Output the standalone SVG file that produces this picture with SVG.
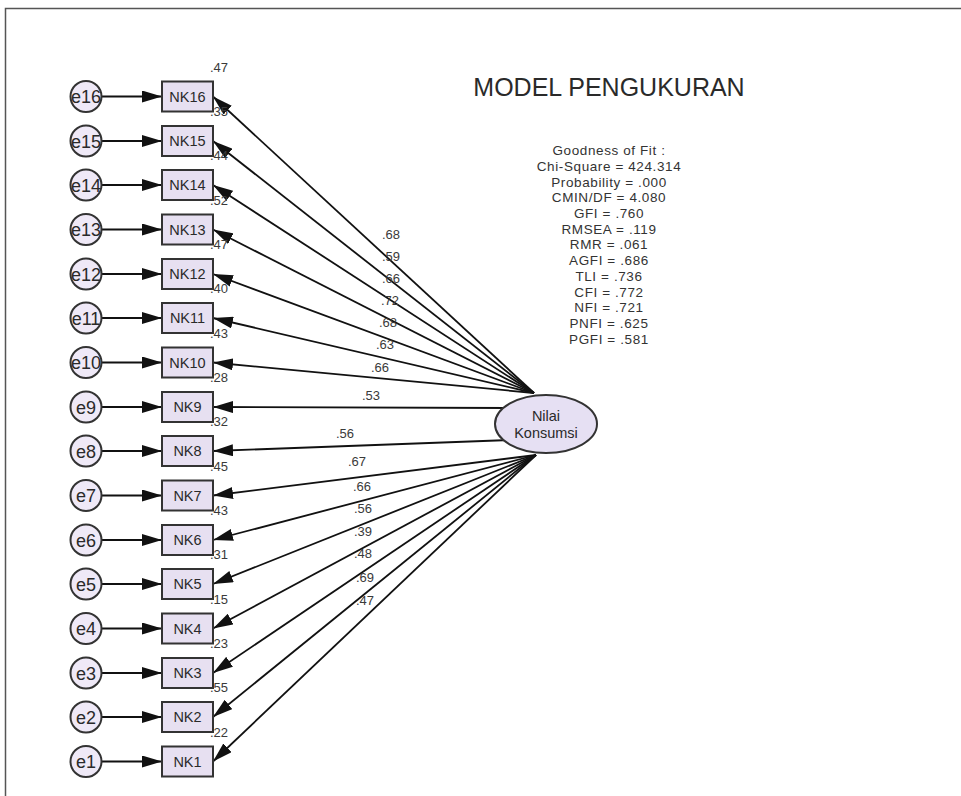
<svg xmlns="http://www.w3.org/2000/svg" width="961" height="796" viewBox="0 0 961 796">
<style>
text{font-family:"Liberation Sans",Arial,sans-serif;fill:#2a2a2a}
.ec{fill:#efe9f7;stroke:#333;stroke-width:2}
.rb{fill:#e7e0f1;stroke:#333;stroke-width:2}
.el{fill:#e6e0f3;stroke:#333;stroke-width:2}
.et{font-size:18px;text-anchor:middle}
.nt{font-size:14.5px;text-anchor:middle}
.r2{font-size:13px;text-anchor:middle;fill:#3a3a3a}
.ld{font-size:13px;text-anchor:middle;fill:#3a3a3a}
.cn line{stroke:#111;stroke-width:1.8;marker-end:url(#ah)}
.gf{font-size:13.5px;text-anchor:middle;letter-spacing:0.6px;fill:#333}
</style>
<defs>
<marker id="ah" markerUnits="userSpaceOnUse" markerWidth="20" markerHeight="12" refX="20" refY="6" orient="auto">
<path d="M0,0 L20,6 L0,12 z" fill="#111"/>
</marker>
</defs>
<rect width="961" height="796" fill="#fff"/>
<path d="M5.5,796 V8.5 H961" fill="none" stroke="#555" stroke-width="1.5"/>
<text x="609" y="96" font-size="25" text-anchor="middle" fill="#222">MODEL PENGUKURAN</text>
<g id="fit">
<text class="gf" x="609" y="155.2">Goodness of Fit :</text>
<text class="gf" x="609" y="170.9">Chi-Square = 424.314</text>
<text class="gf" x="609" y="186.6">Probability = .000</text>
<text class="gf" x="609" y="202.3">CMIN/DF = 4.080</text>
<text class="gf" x="609" y="218">GFI = .760</text>
<text class="gf" x="609" y="233.7">RMSEA = .119</text>
<text class="gf" x="609" y="249.4">RMR = .061</text>
<text class="gf" x="609" y="265.1">AGFI = .686</text>
<text class="gf" x="609" y="280.8">TLI = .736</text>
<text class="gf" x="609" y="296.5">CFI = .772</text>
<text class="gf" x="609" y="312.2">NFI = .721</text>
<text class="gf" x="609" y="327.9">PNFI = .625</text>
<text class="gf" x="609" y="343.6">PGFI = .581</text>
</g>
<g id="connectors" class="cn">
<line x1="101.5" y1="96.5" x2="162" y2="96.5"/>
<line x1="101.5" y1="141" x2="162" y2="141"/>
<line x1="101.5" y1="185" x2="162" y2="185"/>
<line x1="101.5" y1="229.5" x2="162" y2="229.5"/>
<line x1="101.5" y1="274" x2="162" y2="274"/>
<line x1="101.5" y1="318" x2="162" y2="318"/>
<line x1="101.5" y1="362.5" x2="162" y2="362.5"/>
<line x1="101.5" y1="407" x2="162" y2="407"/>
<line x1="101.5" y1="451" x2="162" y2="451"/>
<line x1="101.5" y1="495.5" x2="162" y2="495.5"/>
<line x1="101.5" y1="540" x2="162" y2="540"/>
<line x1="101.5" y1="584" x2="162" y2="584"/>
<line x1="101.5" y1="628.5" x2="162" y2="628.5"/>
<line x1="101.5" y1="673" x2="162" y2="673"/>
<line x1="101.5" y1="717" x2="162" y2="717"/>
<line x1="101.5" y1="761.5" x2="162" y2="761.5"/>
<line x1="534" y1="393" x2="213" y2="96.5"/>
<line x1="534" y1="393" x2="213" y2="141"/>
<line x1="534" y1="393" x2="213" y2="185"/>
<line x1="534" y1="393" x2="213" y2="229.5"/>
<line x1="534" y1="393" x2="213" y2="274"/>
<line x1="534" y1="393" x2="213" y2="318"/>
<line x1="534" y1="393" x2="213" y2="362.5"/>
<line x1="510" y1="408" x2="213" y2="407"/>
<line x1="510" y1="440" x2="213" y2="451"/>
<line x1="536" y1="455" x2="213" y2="495.5"/>
<line x1="536" y1="455" x2="213" y2="540"/>
<line x1="536" y1="455" x2="213" y2="584"/>
<line x1="536" y1="455" x2="213" y2="628.5"/>
<line x1="536" y1="455" x2="213" y2="673"/>
<line x1="536" y1="455" x2="213" y2="717"/>
<line x1="536" y1="455" x2="213" y2="761.5"/>
<text class="ld" x="391" y="238.5">.68</text>
<text class="ld" x="391" y="260.5">.59</text>
<text class="ld" x="391" y="282.5">.66</text>
<text class="ld" x="390" y="304.5">.72</text>
<text class="ld" x="388" y="326.5">.68</text>
<text class="ld" x="385" y="348.5">.63</text>
<text class="ld" x="380" y="371.5">.66</text>
<text class="ld" x="371" y="399.5">.53</text>
<text class="ld" x="345" y="437.5">.56</text>
<text class="ld" x="357" y="465.5">.67</text>
<text class="ld" x="362" y="490.5">.66</text>
<text class="ld" x="363" y="512.5">.56</text>
<text class="ld" x="363" y="535.5">.39</text>
<text class="ld" x="363" y="557.5">.48</text>
<text class="ld" x="365" y="581.5">.69</text>
<text class="ld" x="365" y="604.5">.47</text>
</g>
<g id="NilaiKonsumsi">
<ellipse class="el" cx="546" cy="424" rx="51" ry="29"/>
<text class="nt" x="546" y="421" font-size="14">Nilai</text>
<text class="nt" x="546" y="437.5" font-size="14">Konsumsi</text>
</g>
<g id="e16"><circle class="ec" cx="86" cy="96.5" r="15.5"/><text class="et" x="86" y="103">e16</text></g>
<g id="e15"><circle class="ec" cx="86" cy="141" r="15.5"/><text class="et" x="86" y="147.5">e15</text></g>
<g id="e14"><circle class="ec" cx="86" cy="185" r="15.5"/><text class="et" x="86" y="191.5">e14</text></g>
<g id="e13"><circle class="ec" cx="86" cy="229.5" r="15.5"/><text class="et" x="86" y="236">e13</text></g>
<g id="e12"><circle class="ec" cx="86" cy="274" r="15.5"/><text class="et" x="86" y="280.5">e12</text></g>
<g id="e11"><circle class="ec" cx="86" cy="318" r="15.5"/><text class="et" x="86" y="324.5">e11</text></g>
<g id="e10"><circle class="ec" cx="86" cy="362.5" r="15.5"/><text class="et" x="86" y="369">e10</text></g>
<g id="e9"><circle class="ec" cx="86" cy="407" r="15.5"/><text class="et" x="86" y="413.5">e9</text></g>
<g id="e8"><circle class="ec" cx="86" cy="451" r="15.5"/><text class="et" x="86" y="457.5">e8</text></g>
<g id="e7"><circle class="ec" cx="86" cy="495.5" r="15.5"/><text class="et" x="86" y="502">e7</text></g>
<g id="e6"><circle class="ec" cx="86" cy="540" r="15.5"/><text class="et" x="86" y="546.5">e6</text></g>
<g id="e5"><circle class="ec" cx="86" cy="584" r="15.5"/><text class="et" x="86" y="590.5">e5</text></g>
<g id="e4"><circle class="ec" cx="86" cy="628.5" r="15.5"/><text class="et" x="86" y="635">e4</text></g>
<g id="e3"><circle class="ec" cx="86" cy="673" r="15.5"/><text class="et" x="86" y="679.5">e3</text></g>
<g id="e2"><circle class="ec" cx="86" cy="717" r="15.5"/><text class="et" x="86" y="723.5">e2</text></g>
<g id="e1"><circle class="ec" cx="86" cy="761.5" r="15.5"/><text class="et" x="86" y="768">e1</text></g>
<g id="NK16"><rect class="rb" x="162" y="81.5" width="51" height="30"/><text class="nt" x="187.5" y="101.5">NK16</text><text class="r2" x="219" y="71.5">.47</text></g>
<g id="NK15"><rect class="rb" x="162" y="126" width="51" height="30"/><text class="nt" x="187.5" y="146">NK15</text><text class="r2" x="219" y="116">.35</text></g>
<g id="NK14"><rect class="rb" x="162" y="170" width="51" height="30"/><text class="nt" x="187.5" y="190">NK14</text><text class="r2" x="219" y="160">.44</text></g>
<g id="NK13"><rect class="rb" x="162" y="214.5" width="51" height="30"/><text class="nt" x="187.5" y="234.5">NK13</text><text class="r2" x="219" y="204.5">.52</text></g>
<g id="NK12"><rect class="rb" x="162" y="259" width="51" height="30"/><text class="nt" x="187.5" y="279">NK12</text><text class="r2" x="219" y="249">.47</text></g>
<g id="NK11"><rect class="rb" x="162" y="303" width="51" height="30"/><text class="nt" x="187.5" y="323">NK11</text><text class="r2" x="219" y="293">.40</text></g>
<g id="NK10"><rect class="rb" x="162" y="347.5" width="51" height="30"/><text class="nt" x="187.5" y="367.5">NK10</text><text class="r2" x="219" y="337.5">.43</text></g>
<g id="NK9"><rect class="rb" x="162" y="392" width="51" height="30"/><text class="nt" x="187.5" y="412">NK9</text><text class="r2" x="219" y="382">.28</text></g>
<g id="NK8"><rect class="rb" x="162" y="436" width="51" height="30"/><text class="nt" x="187.5" y="456">NK8</text><text class="r2" x="219" y="426">.32</text></g>
<g id="NK7"><rect class="rb" x="162" y="480.5" width="51" height="30"/><text class="nt" x="187.5" y="500.5">NK7</text><text class="r2" x="219" y="470.5">.45</text></g>
<g id="NK6"><rect class="rb" x="162" y="525" width="51" height="30"/><text class="nt" x="187.5" y="545">NK6</text><text class="r2" x="219" y="515">.43</text></g>
<g id="NK5"><rect class="rb" x="162" y="569" width="51" height="30"/><text class="nt" x="187.5" y="589">NK5</text><text class="r2" x="219" y="559">.31</text></g>
<g id="NK4"><rect class="rb" x="162" y="613.5" width="51" height="30"/><text class="nt" x="187.5" y="633.5">NK4</text><text class="r2" x="219" y="603.5">.15</text></g>
<g id="NK3"><rect class="rb" x="162" y="658" width="51" height="30"/><text class="nt" x="187.5" y="678">NK3</text><text class="r2" x="219" y="648">.23</text></g>
<g id="NK2"><rect class="rb" x="162" y="702" width="51" height="30"/><text class="nt" x="187.5" y="722">NK2</text><text class="r2" x="219" y="692">.55</text></g>
<g id="NK1"><rect class="rb" x="162" y="746.5" width="51" height="30"/><text class="nt" x="187.5" y="766.5">NK1</text><text class="r2" x="219" y="736.5">.22</text></g>
</svg>
